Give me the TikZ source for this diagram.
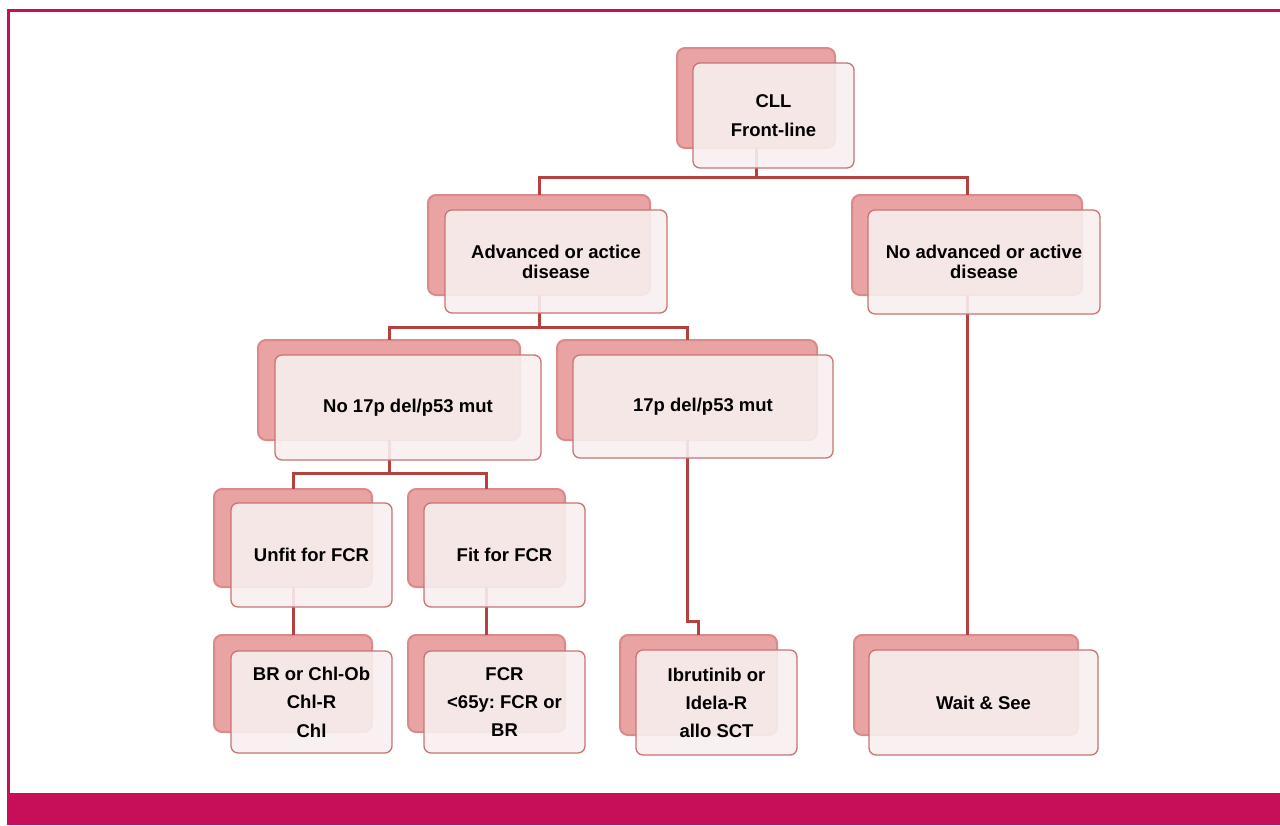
\documentclass[tikz,border=0pt]{standalone}
\usepackage{fontspec}
\setmainfont{Liberation Sans}
\frenchspacing
\definecolor{frame}{HTML}{C70E58}
\definecolor{backfill}{HTML}{E9A3A3}
\definecolor{backdraw}{HTML}{D98A8A}
\definecolor{frontfill}{HTML}{F8EFEF}
\definecolor{frontdraw}{HTML}{C97474}
\definecolor{conncol}{HTML}{B5413F}
\tikzset{
  backbox/.style={draw=backdraw, line width=2pt, fill=backfill, rounded corners=8pt,
    anchor=north west, inner sep=0pt, outer sep=0pt},
  frontbox/.style={draw=frontdraw, line width=1.3pt, fill=frontfill, fill opacity=0.9,
    text opacity=1, rounded corners=7pt, anchor=north west, inner sep=0pt, outer sep=0pt,
    align=center, font=\bfseries\fontsize{18.5}{20}\selectfont},
  conn/.style={draw=conncol, line width=3pt},
}
\begin{document}
\begin{tikzpicture}[x=1pt,y=-1pt]
\useasboundingbox (0,0) rectangle (1280,825);
% frame
\fill[frame] (7,8.5) rectangle (1280,11.5);
\fill[frame] (6.8,8.5) rectangle (9.6,793);
\fill[frame] (7,793) rectangle (1280,825);
% back boxes
\node[backbox, minimum width=158pt, minimum height=100pt] (cllb) at (677,48) {};
\node[backbox, minimum width=222pt, minimum height=100pt] (advb) at (428,195) {};
\node[backbox, minimum width=230pt, minimum height=100pt] (noadvb) at (852,195) {};
\node[backbox, minimum width=262pt, minimum height=100pt] (nob) at (258,340) {};
\node[backbox, minimum width=260pt, minimum height=100pt] (pb) at (557,340) {};
\node[backbox, minimum width=158pt, minimum height=98pt] (unfitb) at (214,489) {};
\node[backbox, minimum width=157pt, minimum height=98pt] (fitb) at (408,489) {};
\node[backbox, minimum width=158pt, minimum height=97pt] (brb) at (214,635) {};
\node[backbox, minimum width=157pt, minimum height=97pt] (fcrb) at (408,635) {};
\node[backbox, minimum width=157pt, minimum height=100pt] (ibrb) at (620,635) {};
\node[backbox, minimum width=224pt, minimum height=100pt] (waitb) at (854,635) {};
% bus levels
\coordinate (y1) at (0,177);
\coordinate (y2) at (0,327);
\coordinate (y3) at (0,473);
\coordinate (y4) at (0,621);
% connectors
\draw[conn] (cllb.south) -- (cllb.south |- y1) -| (advb.north);
\draw[conn] (cllb.south |- y1) -| (noadvb.north);
\draw[conn] (advb.south) -- (advb.south |- y2) -| (nob.north);
\draw[conn] (advb.south |- y2) -| (pb.north);
\draw[conn] (noadvb.south) -- (noadvb.south |- waitb.north);
\draw[conn] (nob.south) -- (nob.south |- y3) -| (unfitb.north);
\draw[conn] (nob.south |- y3) -| (fitb.north);
\draw[conn] (pb.south) -- (pb.south |- y4) -| (ibrb.north);
\draw[conn] (unfitb.south) -- (brb.north);
\draw[conn] (fitb.south) -- (fcrb.north);
% front boxes
\node[frontbox, minimum width=161pt, minimum height=105pt, font=\bfseries\fontsize{18.5}{29}\selectfont] (cll) at (693,63) {CLL\\Front-line};
\node[frontbox, minimum width=222pt, minimum height=103pt] (adv) at (445,210) {Advanced or actice\\disease};
\node[frontbox, minimum width=232pt, minimum height=104pt] (noadv) at (868,210) {No advanced or active\\disease};
\node[frontbox, minimum width=266pt, minimum height=105pt] (no) at (275,355) {No 17p del/p53 mut};
\node[frontbox, minimum width=260pt, minimum height=103pt] (p) at (573,355) {17p del/p53 mut};
\node[frontbox, minimum width=161pt, minimum height=104pt] (unfit) at (231,503) {Unfit for FCR};
\node[frontbox, minimum width=161pt, minimum height=104pt] (fit) at (424,503) {Fit for FCR};
\node[frontbox, minimum width=161pt, minimum height=102pt, font=\bfseries\fontsize{18.5}{28.5}\selectfont] (br) at (231,651) {BR or Chl-Ob\\Chl-R\\Chl};
\node[frontbox, minimum width=161pt, minimum height=102pt, font=\bfseries\fontsize{18.5}{28}\selectfont] (fcr) at (424,651) {FCR\\<65y: FCR or\\BR};
\node[frontbox, minimum width=161pt, minimum height=105pt, font=\bfseries\fontsize{18.5}{28}\selectfont] (ibr) at (636,650) {Ibrutinib or\\Idela-R\\allo SCT};
\node[frontbox, minimum width=229pt, minimum height=105pt] (wait) at (869,650) {Wait \& See};
\end{tikzpicture}
\end{document}
